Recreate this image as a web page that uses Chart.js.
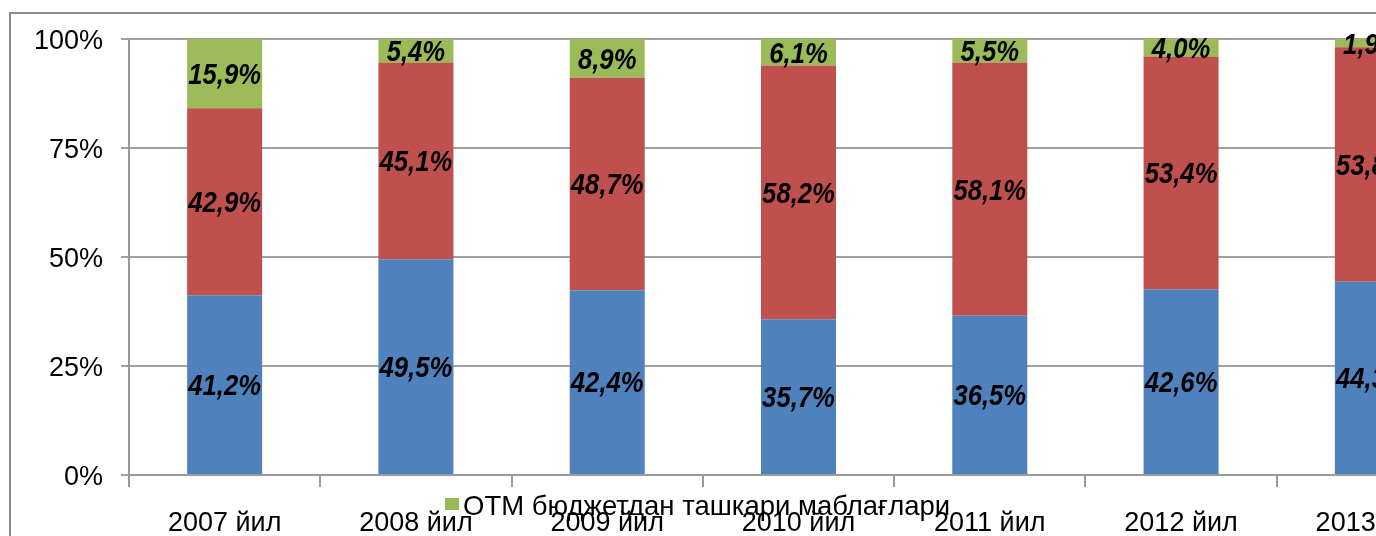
<!DOCTYPE html>
<html>
<head>
<meta charset="utf-8">
<script src="https://cdn.jsdelivr.net/npm/chart.js@4.4.1/dist/chart.umd.min.js"></script>
<style>
  html, body { margin: 0; padding: 0; background: #fff; overflow: hidden; width: 1376px; height: 536px; }
  #frame { position: absolute; left: 9px; top: 12px; width: 1500px; height: 600px;
           border-top: 2px solid #8c8c8c; border-left: 2px solid #8c8c8c; }
  #c { position: absolute; left: 0; top: 0; }
</style>
</head>
<body>
<div id="frame"></div>
<canvas id="c" width="1480" height="536"></canvas>
<script>
const categories = ['2007 йил', '2008 йил', '2009 йил', '2010 йил', '2011 йил', '2012 йил', '2013 йил'];
const seriesNames = ['Давлат бюджети маблағлари', 'Тўлов-контракт маблағлари', 'ОТМ бюджетдан ташкари маблағлари'];
const budgetShare = [41.2, 49.5, 42.4, 35.7, 36.5, 42.6, 44.3];
const contractShare = [42.9, 45.1, 48.7, 58.2, 58.1, 53.4, 53.8];
const extraShare = [15.9, 5.4, 8.9, 6.1, 5.5, 4.0, 1.9];
const yTicks = [0, 25, 50, 75, 100];

const fmt = v => v.toFixed(1).replace('.', ',') + '%';

const labelPlugin = {
  id: 'segLabels',
  afterDatasetsDraw(chart) {
    const ctx = chart.ctx;
    const size = 29, sx = 0.885;
    chart.data.datasets.forEach((ds, di) => {
      const meta = chart.getDatasetMeta(di);
      meta.data.forEach((el, i) => {
        const p = el.getCenterPoint();
        ctx.save();
        ctx.font = 'italic bold ' + size + 'px "Liberation Sans", Arial, sans-serif';
        ctx.fillStyle = '#000';
        ctx.textAlign = 'center';
        ctx.textBaseline = 'alphabetic';
        ctx.translate(p.x, p.y + 0.358 * size);
        ctx.scale(sx, 1);
        ctx.fillText(fmt(ds.data[i]), 0, 0);
        ctx.restore();
      });
    });
  }
};

const legendPlugin = {
  id: 'oneLegend',
  afterDraw(chart) {
    const ctx = chart.ctx;
    const ds = chart.data.datasets[2];
    ctx.save();
    const x = 445, y = 505;
    ctx.fillStyle = ds.backgroundColor;
    ctx.fillRect(x, y - 7, 14, 12);
    ctx.font = '27.5px "Liberation Sans", Arial, sans-serif';
    ctx.fillStyle = '#000';
    ctx.textAlign = 'left';
    ctx.textBaseline = 'alphabetic';
    ctx.fillText(ds.label, x + 18, y + 10);
    ctx.restore();
  }
};

new Chart(document.getElementById('c'), {
  type: 'bar',
  data: {
    labels: categories,
    datasets: [
      { label: seriesNames[0], data: budgetShare, backgroundColor: '#4F81BD' },
      { label: seriesNames[1], data: contractShare, backgroundColor: '#C0504D' },
      { label: seriesNames[2], data: extraShare, backgroundColor: '#9BBB59' }
    ]
  },
  options: {
    responsive: false,
    animation: false,
    events: [],
    layout: { padding: { left: 0, top: 39, right: 12, bottom: 0 } },
    datasets: { bar: { categoryPercentage: 1.0, barPercentage: 0.392, borderWidth: 0 } },
    plugins: { legend: { display: false }, tooltip: { enabled: false }, title: { display: false } },
    scales: {
      x: {
        stacked: true,
        afterFit(s) { s.height = 61; },
        grid: { offset: true, drawOnChartArea: false, drawTicks: true, tickLength: 12, color: '#9a9a9a', lineWidth: 2 },
        border: { display: true, color: '#9a9a9a', width: 2 },
        ticks: { color: '#000', font: { family: '"Liberation Sans", Arial, sans-serif', size: 27 }, padding: 20, maxRotation: 0, autoSkip: false }
      },
      y: {
        stacked: true,
        min: 0, max: 100,
        afterFit(s) { s.width = 129; },
        afterBuildTicks(s) { s.ticks = yTicks.map(v => ({ value: v })); },
        grid: { color: '#a0a0a0', lineWidth: 2, drawTicks: true, tickLength: 8 },
        border: { display: true, color: '#9a9a9a', width: 2 },
        ticks: { color: '#000', font: { family: '"Liberation Sans", Arial, sans-serif', size: 27 }, padding: 18, labelOffset: 3, callback: v => v + '%' }
      }
    }
  },
  plugins: [labelPlugin, legendPlugin]
});
</script>
</body>
</html>
